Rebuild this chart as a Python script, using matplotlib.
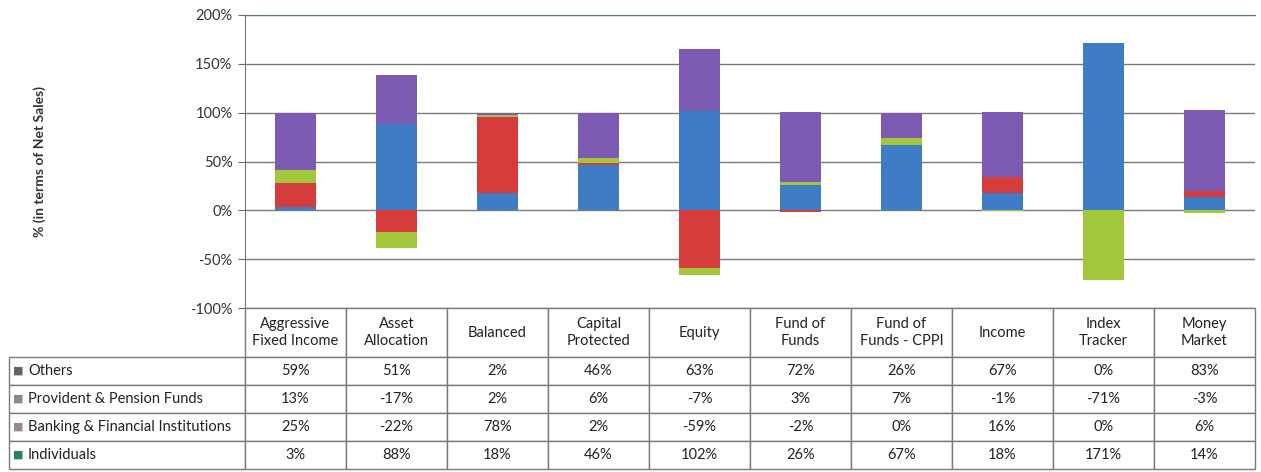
import matplotlib
matplotlib.use("Agg")
import matplotlib.pyplot as plt
import numpy as np

# categories and series (values in % of net sales)
categories = ["Aggressive\nFixed Income", "Asset\nAllocation", "Balanced", "Capital\nProtected",
              "Equity", "Fund of\nFunds", "Fund of\nFunds - CPPI", "Income", "Index\nTracker",
              "Money\nMarket"]
individuals = [3, 88, 18, 46, 102, 26, 67, 18, 171, 14]
banking = [25, -22, 78, 2, -59, -2, 0, 16, 0, 6]
provident = [13, -17, 2, 6, -7, 3, 7, -1, -71, -3]
others = [59, 51, 2, 46, 63, 72, 26, 67, 0, 83]

series_names = ["Individuals", "Banking & Financial Institutions",
                "Provident & Pension Funds", "Others"]
series_vals = [individuals, banking, provident, others]
bar_colors = ["#3f7cc6", "#d63c3c", "#a3c73c", "#7d5bb2"]
swatch_colors = ["#2f7f66", "#9a8890", "#8a8a8a", "#5f6466"]

plt.rcParams["font.family"] = ["Lato", "DejaVu Sans"]

fig = plt.figure(figsize=(12.61, 4.72), dpi=100)
ax = fig.add_axes([245 / 1261, 1 - 308 / 472, 1010 / 1261, 293 / 472])

x = np.arange(len(categories))
pos_bottom = np.zeros(len(categories))
neg_bottom = np.zeros(len(categories))
for vals, col in zip(series_vals, bar_colors):
    v = np.array(vals, dtype=float)
    bottoms = np.where(v >= 0, pos_bottom, neg_bottom)
    ax.bar(x, v, 0.4, bottom=bottoms, color=col, zorder=3)
    pos_bottom += np.where(v >= 0, v, 0)
    neg_bottom += np.where(v < 0, v, 0)

ax.set_xlim(-0.5, len(categories) - 0.5)
ax.set_ylim(-100, 200)
ax.set_yticks(np.arange(-100, 201, 50))
ax.set_yticklabels([f"{t}%" for t in range(-100, 201, 50)], fontsize=10.5, color="#333333")
ax.set_xticks([])
ax.grid(axis="y", color="#7a7a7a", linewidth=1, zorder=0)
ax.tick_params(axis="y", length=5, color="#6a6a6a", pad=4)
for s in ["right", "bottom"]:
    ax.spines[s].set_visible(False)
ax.spines["left"].set_color("#6a7a70")
ax.spines["top"].set_color("#5a7a6a")
ax.set_ylabel("% (in terms of Net Sales)", fontsize=10, fontweight="bold",
              color="#333333", labelpad=104)

# data table below the chart
row_names = series_names[::-1]
cell_text = [[f"{v}%" for v in vals] for vals in series_vals[::-1]]
tbl = ax.table(cellText=cell_text, rowLabels=row_names, colLabels=categories,
               cellLoc="center", rowLoc="left", bbox=[0, -161 / 293, 1, 161 / 293])
tbl.auto_set_font_size(False)
tbl.set_fontsize(10.5)
unit = 1 / 293
for (r, c), cell in tbl.get_celld().items():
    cell.set_edgecolor("#7a7a7a")
    cell.set_linewidth(1)
    cell.get_text().set_color("#222222")
    if r == 0:
        cell.set_height(49 * unit)
    else:
        cell.set_height(28 * unit)
    if c == -1:
        cell.set_width(235 / 1010)
        cell.PAD = 0.08
    else:
        cell.set_width(0.1)

# legend swatches in the row label cells
for i, col in enumerate(swatch_colors[::-1]):
    yc = -(49 + 28 * i + 14) * unit
    ax.text(-232 / 1010, yc, "■", transform=ax.transAxes, color=col,
            fontsize=8, ha="left", va="center", family="DejaVu Sans")

fig.savefig("out.png", dpi=100)
